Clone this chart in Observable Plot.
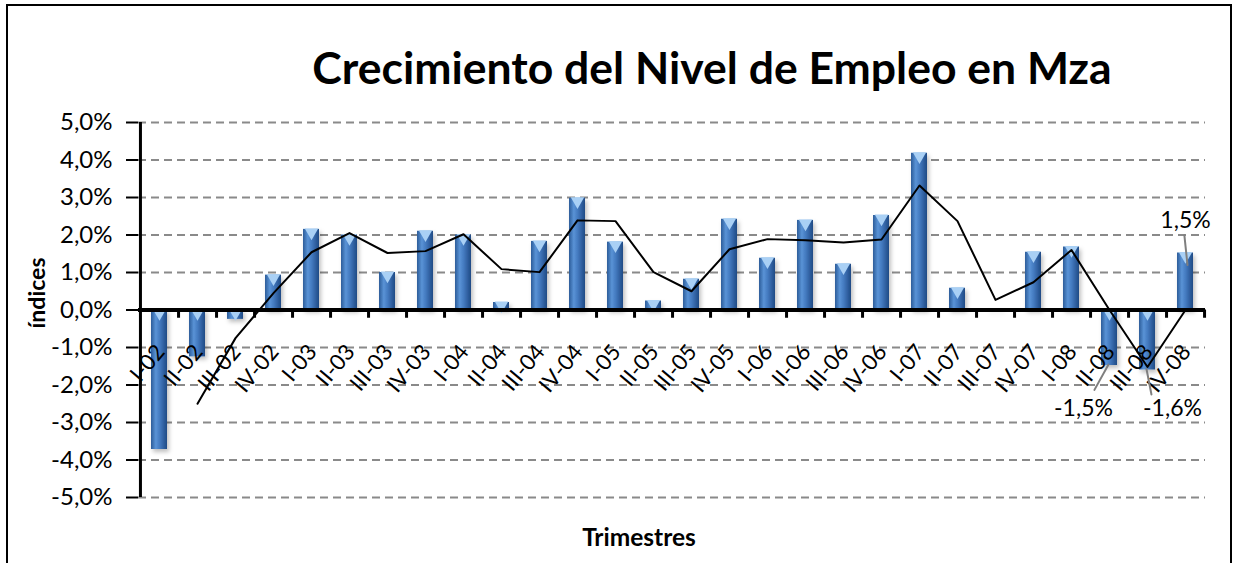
<!DOCTYPE html>
<html><head><meta charset="utf-8">
<script src="https://cdn.jsdelivr.net/npm/d3@7"></script>
<script src="https://cdn.jsdelivr.net/npm/@observablehq/plot@0.6"></script>
<style>
body{margin:0;background:#fff;}
#wrap{position:relative;width:1235px;height:563px;overflow:hidden;font-family:Lato,"Open Sans",sans-serif;color:#000;background:#fff;}
#chart{position:absolute;left:0;top:0;}
#frame{position:absolute;left:6px;top:4px;width:1222px;height:620px;border:2px solid #000;pointer-events:none;}
#title{position:absolute;left:712px;top:45px;transform:translateX(-50%);font-size:44.5px;font-weight:700;white-space:nowrap;line-height:1;}
#ylab{position:absolute;left:36px;top:293px;transform:translate(-50%,-50%) rotate(-90deg);font-size:23px;font-weight:700;white-space:nowrap;}
#xlab{position:absolute;left:639px;top:536px;transform:translate(-50%,-50%);font-size:24.5px;font-weight:700;white-space:nowrap;}
</style>
</head><body>
<div id="wrap">
  <div id="chart"></div>
  <div id="frame"></div>
  <div id="title">Crecimiento del Nivel de Empleo en Mza</div>
  <div id="ylab">índices</div>
  <div id="xlab">Trimestres</div>
</div>
<script>
const trimestres = ["I-02","II-02","III-02","IV-02","I-03","II-03","III-03","IV-03","I-04","II-04","III-04","IV-04","I-05","II-05","III-05","IV-05","I-06","II-06","III-06","IV-06","I-07","II-07","III-07","IV-07","I-08","II-08","III-08","IV-08"];
const empleo = [-3.72,-1.25,-0.25,0.93,2.15,2.0,1.0,2.1,2.0,0.2,1.83,2.98,1.81,0.24,0.82,2.42,1.38,2.39,1.22,2.52,4.18,0.58,0.02,1.54,1.68,-1.48,-1.6,1.52];
const tendencia = [null,-2.5,-0.75,0.45,1.54,2.05,1.52,1.57,2.02,1.09,1.01,2.39,2.37,1.01,0.5,1.62,1.89,1.86,1.8,1.88,3.32,2.37,0.27,0.74,1.6,0.0,-1.52,0.0];
const yTicks = [-5,-4,-3,-2,-1,0,1,2,3,4,5];
const etiquetados = ["II-08","III-08","IV-08"];

const data = trimestres.map((t,i)=>({t, v: empleo[i], m: tendencia[i]}));
const fmt = d => d.toFixed(1).replace(".", ",") + "%";
const W = 1235, H = 563, ML = 138, MR = 30, MT = 122, MB = 66;
const step = (W - ML - MR) / trimestres.length;
const lab = t => data.filter(d => d.t === t);

const svg = Plot.plot({
  width: W, height: H,
  marginLeft: ML, marginRight: MR, marginTop: MT, marginBottom: MB,
  style: {background: "transparent", fontFamily: "Lato, 'Open Sans', sans-serif", color: "#000", overflow: "visible"},
  x: {domain: trimestres, paddingInner: 0.58, paddingOuter: 0.29, axis: null},
  y: {domain: [-5, 5], axis: null},
  marks: [
    Plot.ruleY(yTicks.filter(d => d !== 0), {stroke: "#8a8a8a", strokeWidth: 2, strokeDasharray: "8,5"}),
    Plot.barY(data, {x: "t", y: "v", fill: "url(#barGrad)"}),
    Plot.dot(data.filter(d => Math.abs(d.v) > 0.1), {x: "t", y: d => Math.max(d.v, 0), symbol: "triangle", rotate: 180, r: 5, fill: "#a9d0f5", stroke: "none", dy: 3}),
    Plot.ruleY([0], {stroke: "#000", strokeWidth: 4}),
    Plot.ruleX(trimestres, {x: d => d, y1: 0, y2: -0.22, dx: step / 2, stroke: "#000", strokeWidth: 3}),
    Plot.ruleX([trimestres[0]], {x: d => d, y1: -5, y2: 5, dx: -step / 2, stroke: "#000", strokeWidth: 3}),
    Plot.axisY(yTicks, {tickFormat: fmt, tickSize: 12, tickPadding: 14, fontSize: 24, strokeWidth: 2, stroke: "#000", fill: "#000", label: null}),
    Plot.line(data.filter(d => d.m != null), {x: "t", y: "m", stroke: "#000", strokeWidth: 2}),
    Plot.text(trimestres, {x: d => d, y: 0, text: d => d, rotate: -50, textAnchor: "end", dx: 1, dy: 38, fontSize: 22, fill: "#000"}),
    // data labels and leader lines
    Plot.vector(lab("IV-08"), {x: "t", y: "v", dx: 2, dy: 12, length: 30, rotate: -6, anchor: "start", r: 0, stroke: "#7f7f7f", strokeWidth: 2}),
    Plot.vector(lab("II-08"), {x: "t", y: "v", dx: -1, dy: -1, length: 29, rotate: 209, anchor: "start", r: 0, stroke: "#7f7f7f", strokeWidth: 2}),
    Plot.vector(lab("III-08"), {x: "t", y: "v", dx: -1, dy: -1, length: 26, rotate: 169, anchor: "start", r: 0, stroke: "#7f7f7f", strokeWidth: 2}),
    Plot.text(lab("IV-08"), {x: "t", y: "v", text: d => fmt(d.v), dx: 0, dy: -32, fontSize: 23, fill: "#000"}),
    Plot.text(lab("II-08"), {x: "t", y: "v", text: d => fmt(d.v), dx: -26, dy: 43, fontSize: 23, fill: "#000"}),
    Plot.text(lab("III-08"), {x: "t", y: "v", text: d => fmt(d.v), dx: 25, dy: 39, fontSize: 23, fill: "#000"})
  ]
});

const ns = "http://www.w3.org/2000/svg";
const defs = document.createElementNS(ns, "defs");
defs.innerHTML = `<linearGradient id="barGrad" x1="0" y1="0" x2="1" y2="0">
  <stop offset="0" stop-color="#2b5c99"/>
  <stop offset="0.3" stop-color="#5a93d6"/>
  <stop offset="0.55" stop-color="#4379bf"/>
  <stop offset="1" stop-color="#1f4a85"/>
</linearGradient>
<filter id="barShadow" x="-50%" y="-10%" width="200%" height="130%">
  <feDropShadow dx="2" dy="3" stdDeviation="2" flood-color="#000" flood-opacity="0.25"/>
</filter>`;
svg.insertBefore(defs, svg.firstChild);
const barG = svg.querySelector('g[aria-label="bar"]');
if (barG) barG.setAttribute("filter", "url(#barShadow)");
document.getElementById("chart").appendChild(svg);
</script>
</body></html>
